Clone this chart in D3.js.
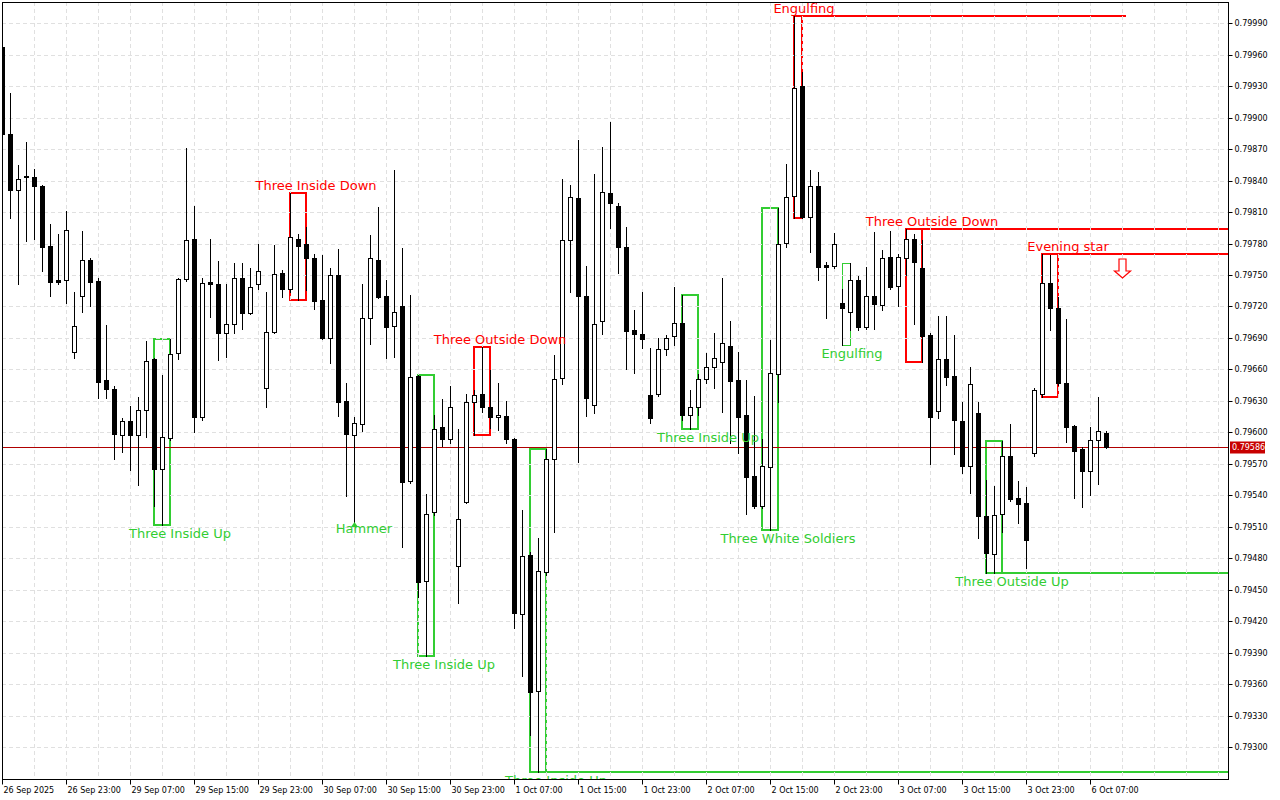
<!DOCTYPE html>
<html><head><meta charset="utf-8">
<script src="https://cdn.jsdelivr.net/npm/d3@7/dist/d3.min.js"></script>
<style>html,body{margin:0;padding:0;background:#fff;}svg{display:block;}</style>
</head><body>
<svg id="chart" width="1280" height="800"></svg>
<script>
// ---------- data (hourly bars, prices) ----------
const opens = [0.79967,0.79884,0.79831,0.79844,0.79843,0.79835,0.79778,0.79745,0.79745,0.79677,0.79730,0.79764,0.79744,0.79650,0.79641,0.79597,0.79611,0.79597,0.79621,0.79670,0.79565,0.79595,0.79676,0.79746,0.79784,0.79615,0.79743,0.79741,0.79695,0.79703,0.79747,0.79714,0.79741,0.79642,0.79696,0.79752,0.79737,0.79784,0.79780,0.79766,0.79726,0.79690,0.79750,0.79630,0.79597,0.79608,0.79709,0.79764,0.79730,0.79701,0.79720,0.79554,0.79654,0.79458,0.79524,0.79605,0.79594,0.79473,0.79534,0.79629,0.79637,0.79624,0.79615,0.79616,0.79594,0.79427,0.79483,0.79353,0.79467,0.79575,0.79652,0.79783,0.79823,0.79730,0.79626,0.79706,0.79828,0.79816,0.79777,0.79698,0.79694,0.79636,0.79637,0.79679,0.79692,0.79704,0.79617,0.79624,0.79651,0.79662,0.79667,0.79682,0.79650,0.79617,0.79558,0.79530,0.79567,0.79656,0.79781,0.79825,0.79930,0.79805,0.79835,0.79760,0.79759,0.79723,0.79715,0.79745,0.79700,0.79730,0.79721,0.79767,0.79740,0.79766,0.79784,0.79757,0.79693,0.79620,0.79670,0.79654,0.79611,0.79568,0.79618,0.79520,0.79484,0.79522,0.79577,0.79537,0.79533,0.79580,0.79637,0.79742,0.79719,0.79647,0.79606,0.79584,0.79563,0.79593,0.79599];
const highs = [0.79969,0.79924,0.79855,0.79877,0.79851,0.79836,0.79799,0.79789,0.79811,0.79734,0.79792,0.79766,0.79747,0.79702,0.79644,0.79614,0.79625,0.79634,0.79687,0.79671,0.79655,0.79689,0.79747,0.79871,0.79816,0.79747,0.79784,0.79763,0.79741,0.79761,0.79761,0.79757,0.79780,0.79734,0.79779,0.79755,0.79828,0.79789,0.79796,0.79770,0.79769,0.79757,0.79775,0.79647,0.79615,0.79741,0.79788,0.79815,0.79745,0.79850,0.79776,0.79731,0.79655,0.79541,0.79617,0.79632,0.79644,0.79603,0.79637,0.79640,0.79681,0.79659,0.79647,0.79630,0.79595,0.79526,0.79486,0.79499,0.79584,0.79674,0.79842,0.79836,0.79879,0.79759,0.79846,0.79872,0.79896,0.79819,0.79796,0.79717,0.79734,0.79680,0.79690,0.79693,0.79739,0.79731,0.79640,0.79656,0.79676,0.79695,0.79747,0.79706,0.79677,0.79650,0.79635,0.79594,0.79688,0.79814,0.79856,0.79997,0.79944,0.79850,0.79848,0.79762,0.79790,0.79737,0.79761,0.79749,0.79758,0.79791,0.79774,0.79792,0.79770,0.79794,0.79789,0.79783,0.79695,0.79711,0.79711,0.79693,0.79629,0.79662,0.79629,0.79555,0.79549,0.79592,0.79608,0.79554,0.79548,0.79642,0.79770,0.79769,0.79729,0.79708,0.79607,0.79586,0.79605,0.79634,0.79601];
const lows = [0.79883,0.79804,0.79741,0.79782,0.79784,0.79754,0.79730,0.79741,0.79723,0.79671,0.79715,0.79720,0.79633,0.79633,0.79575,0.79581,0.79564,0.79550,0.79596,0.79530,0.79512,0.79593,0.79670,0.79744,0.79600,0.79612,0.79710,0.79669,0.79672,0.79695,0.79699,0.79713,0.79737,0.79624,0.79695,0.79729,0.79734,0.79726,0.79736,0.79718,0.79689,0.79666,0.79616,0.79539,0.79514,0.79601,0.79684,0.79728,0.79671,0.79672,0.79491,0.79552,0.79443,0.79387,0.79521,0.79587,0.79590,0.79437,0.79533,0.79597,0.79619,0.79604,0.79602,0.79590,0.79413,0.79368,0.79311,0.79276,0.79464,0.79505,0.79646,0.79734,0.79572,0.79616,0.79618,0.79694,0.79795,0.79752,0.79660,0.79657,0.79680,0.79609,0.79635,0.79674,0.79683,0.79612,0.79603,0.79617,0.79647,0.79642,0.79619,0.79590,0.79580,0.79522,0.79528,0.79528,0.79507,0.79629,0.79777,0.79804,0.79804,0.79772,0.79745,0.79709,0.79757,0.79683,0.79698,0.79698,0.79699,0.79699,0.79717,0.79737,0.79720,0.79750,0.79703,0.79667,0.79570,0.79614,0.79645,0.79579,0.79561,0.79542,0.79499,0.79466,0.79466,0.79505,0.79535,0.79514,0.79471,0.79577,0.79634,0.79698,0.79645,0.79591,0.79537,0.79529,0.79540,0.79551,0.79585];
const closes = [0.79884,0.79831,0.79842,0.79843,0.79835,0.79777,0.79743,0.79743,0.79793,0.79701,0.79764,0.79743,0.79648,0.79641,0.79598,0.79611,0.79597,0.79621,0.79668,0.79565,0.79596,0.79675,0.79746,0.79783,0.79615,0.79742,0.79741,0.79695,0.79703,0.79747,0.79714,0.79739,0.79754,0.79696,0.79751,0.79737,0.79786,0.79778,0.79766,0.79725,0.79690,0.79750,0.79629,0.79598,0.79609,0.79709,0.79766,0.79729,0.79700,0.79715,0.79553,0.79653,0.79457,0.79522,0.79603,0.79594,0.79624,0.79517,0.79629,0.79636,0.79624,0.79615,0.79617,0.79594,0.79428,0.79482,0.79352,0.79468,0.79575,0.79651,0.79783,0.79824,0.79730,0.79633,0.79703,0.79829,0.79819,0.79777,0.79697,0.79694,0.79689,0.79614,0.79679,0.79690,0.79704,0.79617,0.79624,0.79651,0.79662,0.79671,0.79685,0.79649,0.79615,0.79557,0.79530,0.79568,0.79657,0.79780,0.79824,0.79928,0.79805,0.79835,0.79758,0.79758,0.79780,0.79719,0.79745,0.79700,0.79730,0.79722,0.79766,0.79739,0.79767,0.79784,0.79762,0.79692,0.79615,0.79670,0.79653,0.79612,0.79568,0.79646,0.79520,0.79485,0.79521,0.79577,0.79536,0.79532,0.79497,0.79640,0.79742,0.79719,0.79647,0.79605,0.79582,0.79563,0.79593,0.79601,0.79586];

const timeLabels = ["26 Sep 2025","26 Sep 23:00","29 Sep 07:00","29 Sep 15:00","29 Sep 23:00","30 Sep 07:00","30 Sep 15:00","30 Sep 23:00","1 Oct 07:00","1 Oct 15:00","1 Oct 23:00","2 Oct 07:00","2 Oct 15:00","2 Oct 23:00","3 Oct 07:00","3 Oct 15:00","3 Oct 23:00","6 Oct 07:00"];
const timeLabelBars = [0,8,16,24,32,40,48,56,64,72,80,88,96,104,112,120,128,136];
const priceTicks = [0.79300,0.79330,0.79360,0.79390,0.79420,0.79450,0.79480,0.79510,0.79540,0.79570,0.79600,0.79630,0.79660,0.79690,0.79720,0.79750,0.79780,0.79810,0.79840,0.79870,0.79900,0.79930,0.79960,0.79990];
const lastPrice = 0.79586;

// candlestick patterns
const patternNames = ["Three Inside Up","Three Inside Down","Hammer","Three Inside Up","Three Outside Down","Three Inside Up","Three Inside Up","Three White Soldiers","Engulfing","Engulfing","Three Outside Down","Three Outside Up","Evening star"];
const patternStart = [19,36,44,52,59,66,85,95,99,105,113,123,130];
const patternEnd   = [21,38,44,54,61,68,87,97,100,106,115,125,132];
const patternBull  = [true,false,true,true,false,true,true,true,false,true,false,true,false];
const levelPattern = [8,10,12,11,5];          // patterns with a level line
const levelEndBar  = [140.5,null,null,null,null]; // null = to the right edge
const sellArrowBar = 140;

// ---------- layout ----------
const Lx=2, Rx=1228, Ty=2, By=779, STEP=8;
const svg=d3.select('#chart');
const x=d3.scaleLinear().domain([0,(Rx-Lx)/STEP]).range([Lx,Rx]);
const y=d3.scaleLinear().domain([0.792695,0.800103]).range([By,Ty]);
const py=v=>Math.round(y(v));
const RED='#ff0000', GREEN='#32cd32';
const FONT='DejaVu Sans, Verdana, sans-serif';

svg.append('rect').attr('width',1280).attr('height',800).attr('fill','#fff');
svg.append('clipPath').attr('id','plot').append('rect')
  .attr('x',Lx).attr('y',Ty).attr('width',Rx-Lx).attr('height',By-Ty);

const n=opens.length;
const bars=d3.range(n).map(i=>({i,o:opens[i],h:highs[i],l:lows[i],c:closes[i]}));
const pats=patternNames.map((name,k)=>{
  const s=patternStart[k], e=patternEnd[k];
  const hi=d3.max(highs.slice(s,e+1)), lo=d3.min(lows.slice(s,e+1));
  return {name,s,e,bull:patternBull[k],hi,lo};
});

// objects (drawn in background)
const obj=svg.append('g').attr('clip-path','url(#plot)');
pats.forEach(p=>{
  if(p.s===p.e) return;
  const thin=p.bull && (p.e-p.s)===1;
  obj.append('rect')
    .attr('x',x(p.s)+(thin?0.5:0)).attr('y',py(p.hi)+(thin?0.5:0))
    .attr('width',x(p.e)-x(p.s)).attr('height',py(p.lo)-py(p.hi))
    .attr('fill','none').attr('stroke',p.bull?GREEN:RED).attr('stroke-width',thin?1:2);
});
levelPattern.forEach((k,j)=>{
  const p=pats[k];
  const lv=p.bull?p.lo:p.hi;
  const xe=levelEndBar[j]==null?Rx:x(levelEndBar[j]);
  obj.append('line').attr('x1',x(p.s)).attr('x2',xe)
    .attr('y1',py(lv)).attr('y2',py(lv))
    .attr('stroke',p.bull?GREEN:RED).attr('stroke-width',2);
});

// grid
const grid=svg.append('g').attr('clip-path','url(#plot)')
  .attr('stroke','#e0e0e0').attr('stroke-width',1).attr('stroke-dasharray','4,3');
priceTicks.forEach(v=>{
  grid.append('line').attr('x1',Lx).attr('x2',Rx).attr('y1',py(v)+0.5).attr('y2',py(v)+0.5);
});
d3.range(4,(Rx-Lx)/STEP,4).forEach(b=>{
  grid.append('line').attr('x1',x(b)+0.5).attr('x2',x(b)+0.5).attr('y1',Ty).attr('y2',By);
});

// current price line
svg.append('line').attr('x1',Lx).attr('x2',Rx).attr('y1',py(lastPrice)+0.5).attr('y2',py(lastPrice)+0.5)
  .attr('stroke','#b00000').attr('stroke-width',1);

// candles
const cg=svg.append('g').attr('clip-path','url(#plot)');
bars.forEach(b=>{
  const cx=Math.round(x(b.i))+0.5;
  cg.append('line').attr('x1',cx).attr('x2',cx).attr('y1',py(b.h)).attr('y2',py(b.l)+1)
    .attr('stroke','#000').attr('stroke-width',1);
  const top=py(Math.max(b.o,b.c)), bot=py(Math.min(b.o,b.c));
  if(b.c>b.o){
    cg.append('rect').attr('x',cx-2).attr('y',top+0.5).attr('width',4).attr('height',Math.max(bot-top,1))
      .attr('fill','#fff').attr('stroke','#000').attr('stroke-width',1);
  } else {
    cg.append('rect').attr('x',cx-2.5).attr('y',top).attr('width',5).attr('height',Math.max(bot-top,1)+1)
      .attr('fill','#000');
  }
});

// pattern labels & arrows
const lg=svg.append('g').attr('clip-path','url(#plot)').attr('font-family',FONT).attr('font-size',13);
pats.forEach(p=>{
  const len=p.e-p.s+1;
  const lx=x(p.e)+(len===2?2:10);
  let ly;
  if(len===1){ ly=py(p.lo)+5; }
  else ly=p.bull?py(p.lo)+8:py(p.hi)-8;
  lg.append('text').attr('x',lx).attr('y',ly).attr('dy','0.36em').attr('text-anchor','middle')
    .attr('fill',p.bull?GREEN:RED).text(p.name);
  if(len===1){
    const cx=Math.round(x(p.s))+0.5, ty=py(p.lo)-1;
    lg.append('path').attr('d',`M${cx},${ty}L${cx+3.5},${ty+5}L${cx-3.5},${ty+5}Z`).attr('fill',GREEN);
  }
});
{
  const p=pats[12];
  const cx=Math.round(x(sellArrowBar))+0.5, t=py(p.hi)+5;
  lg.append('path')
    .attr('d',`M${cx-3.5},${t}H${cx+3.5}V${t+12}H${cx+8}L${cx},${t+19}L${cx-8},${t+12}H${cx-3.5}Z`)
    .attr('fill','#fff').attr('stroke',RED).attr('stroke-width',1.2);
}

// frame
svg.append('rect').attr('x',Lx+0.5).attr('y',Ty+0.5).attr('width',Rx-Lx).attr('height',By-Ty)
  .attr('fill','none').attr('stroke','#000').attr('stroke-width',1);

// axes
const ya=svg.append('g').attr('transform',`translate(${Rx+0.5},0)`)
  .call(d3.axisRight(y).tickValues(priceTicks).tickFormat(d3.format('.5f')).tickSize(4).tickPadding(2));
ya.select('.domain').remove();
ya.selectAll('.tick').attr('transform',d=>`translate(0,${py(d)+0.5})`);
ya.selectAll('text').attr('font-family',FONT).attr('font-size',8).attr('fill','#000');

const xa=svg.append('g').attr('transform',`translate(0,${By+0.5})`)
  .call(d3.axisBottom(x).tickValues(timeLabelBars).tickFormat((d,i)=>timeLabels[i]).tickSize(5).tickPadding(3));
xa.select('.domain').remove();
xa.selectAll('.tick').attr('transform',d=>`translate(${Math.round(x(d))+0.5},0)`);
xa.selectAll('text').attr('text-anchor','start').attr('x',1).attr('font-family',FONT).attr('font-size',8).attr('fill','#000');

// last price tag
const ly0=py(lastPrice)+0.5;
svg.append('rect').attr('x',Rx+2).attr('y',ly0-6).attr('width',35).attr('height',12).attr('fill','#c80000');
svg.append('text').attr('x',Rx+4).attr('y',ly0).attr('dy','0.35em')
  .attr('font-family',FONT).attr('font-size',8).attr('fill','#fff').text(d3.format('.5f')(lastPrice));
</script>
</body></html>
